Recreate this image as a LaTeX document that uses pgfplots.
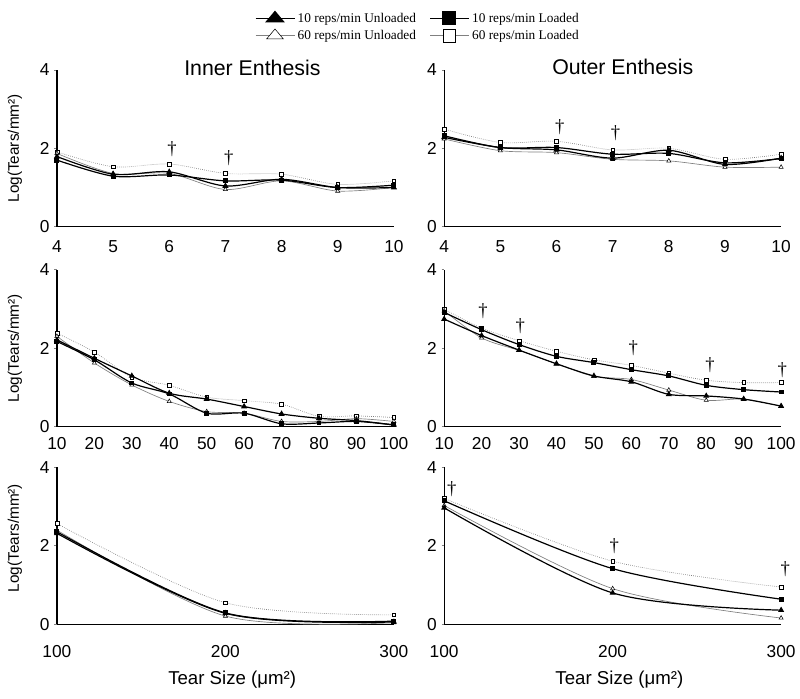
\documentclass[border=0pt]{standalone}
\usepackage{fontspec}
\setmainfont{Liberation Sans}
\newfontfamily\legfont{Liberation Serif}
\usepackage{pgfplots}
\pgfplotsset{compat=1.18}
\pgfplotsset{
 s10u/.style={black, line width=0.9pt, smooth, tension=0.5, mark=triangle*, mark size=1.8pt, mark options={solid, fill=black}},
 s10l/.style={black, line width=0.9pt, smooth, tension=0.5, mark=square*, mark size=1.4pt, mark options={solid, fill=black}},
 s60u/.style={gray, line width=0.5pt, smooth, tension=0.5, mark=triangle*, mark size=1.8pt, mark options={solid, fill=white, draw=black, line width=0.4pt}},
 s60l/.style={gray, line width=0.5pt, densely dotted, smooth, tension=0.5, mark=square*, mark size=1.4pt, mark options={solid, fill=white, draw=black, line width=0.4pt}},
 panel/.style={scale only axis, width=253pt, height=117.75pt, anchor=south west,
   clip mode=individual,
   axis x line=bottom, axis y line=left, axis line style={-, line width=1pt},
   ymin=0, ymax=4, ytick={0,2,4}, tick align=outside, major tick length=2pt,
   xtick style={draw=none}, ytick style={line width=0.6pt},
   tick label style={font=\fontsize{13}{15}\selectfont},
   /pgf/number format/assume math mode=true},
}
\tikzset{
 ttl/.style={font=\fontsize{16}{18}\selectfont},
 dag/.style={font=\legfont\fontsize{14}{16}\selectfont},
}
\newcommand{\ylab}{Log(Tears/mm²)}
\begin{document}
\begin{tikzpicture}
\path (0,0) rectangle (600pt,524.25pt);
% ---------------- Top left
\begin{axis}[panel, at={(42.75pt,354pt)}, xmin=4, xmax=10, xtick={4,5,6,7,8,9,10},
  xticklabel style={yshift=-4.5pt},
  ylabel={\ylab}, ylabel style={at={(axis description cs:-0.125,0.5)}, anchor=center, font=\fontsize{11.5}{13}\selectfont},
  legend columns=2,
  legend style={at={(axis description cs:0.575,1.40)}, anchor=north west, draw=none, fill=none,
    font=\legfont\fontsize{10}{12}\selectfont, /tikz/every even column/.append style={column sep=8pt}, row sep=0.5pt},
  legend image code/.code={\draw[mark repeat=2,mark phase=2] plot coordinates {(0pt,0pt)(14.5pt,0pt)(29pt,0pt)};},
  legend image post style={smooth=false}]
\addlegendimage{s10u, line width=1.1pt, mark size=5pt, mark options={solid, fill=black, xscale=1.45}}\addlegendentry{10 reps/min Unloaded}
\addlegendimage{s10l, line width=1.1pt, mark size=4.7pt}\addlegendentry{10 reps/min Loaded}
\addlegendimage{s60u, solid, mark size=5pt, mark options={solid, fill=white, draw=black, line width=0.4pt, xscale=1.45}}\addlegendentry{60 reps/min Unloaded}
\addlegendimage{s60l, solid, mark size=4.7pt}\addlegendentry{60 reps/min Loaded}
\addplot[s60l, forget plot] coordinates {(4,1.91)(5,1.53)(6,1.60)(7,1.36)(8,1.34)(9,1.08)(10,1.17)};
\addplot[s60u, forget plot] coordinates {(4,1.87)(5,1.36)(6,1.36)(7,0.95)(8,1.17)(9,0.91)(10,1.00)};
\addplot[s10l, forget plot] coordinates {(4,1.70)(5,1.29)(6,1.32)(7,1.17)(8,1.19)(9,1.00)(10,1.06)};
\addplot[s10u, forget plot] coordinates {(4,1.79)(5,1.34)(6,1.40)(7,1.04)(8,1.21)(9,1.00)(10,1.00)};
\node[ttl] at (axis description cs:0.58,1.01) {Inner Enthesis};
\node[dag] at (axis cs:6.05,1.98) {†};
\node[dag] at (axis cs:7.06,1.74) {†};
\end{axis}
% ---------------- Top right
\begin{axis}[panel, at={(333.5pt,354pt)}, xmin=4, xmax=10, xtick={4,5,6,7,8,9,10},
  xticklabel style={yshift=-4.5pt}]
\addplot[s60l] coordinates {(4,2.49)(5,2.15)(6,2.18)(7,1.96)(8,2.00)(9,1.72)(10,1.85)};
\addplot[s60u] coordinates {(4,2.24)(5,1.94)(6,1.89)(7,1.72)(8,1.68)(9,1.52)(10,1.52)};
\addplot[s10l] coordinates {(4,2.32)(5,2.02)(6,2.02)(7,1.85)(8,1.87)(9,1.63)(10,1.74)};
\addplot[s10u] coordinates {(4,2.28)(5,2.02)(6,1.96)(7,1.75)(8,1.95)(9,1.59)(10,1.75)};
\node[ttl] at (axis description cs:0.53,1.02) {Outer Enthesis};
\node[dag] at (axis cs:6.06,2.55) {†};
\node[dag] at (axis cs:7.05,2.38) {†};
\end{axis}
% ---------------- Middle left
\begin{axis}[panel, at={(42.75pt,204pt)}, xmin=10, xmax=100, xtick={10,20,...,100},
  xticklabel style={yshift=-3pt},
  ylabel={\ylab}, ylabel style={at={(axis description cs:-0.125,0.5)}, anchor=center, font=\fontsize{11.5}{13}\selectfont}]
\addplot[s60l] coordinates {(10,2.38)(20,1.90)(30,1.26)(40,1.05)(50,0.75)(60,0.66)(70,0.57)(80,0.26)(90,0.27)(100,0.23)};
\addplot[s60u] coordinates {(10,2.30)(20,1.62)(30,1.06)(40,0.64)(50,0.38)(60,0.34)(70,0.13)(80,0.13)(90,0.20)(100,0.13)};
\addplot[s10l] coordinates {(10,2.17)(20,1.70)(30,1.11)(40,0.83)(50,0.34)(60,0.34)(70,0.07)(80,0.09)(90,0.13)(100,0.04)};
\addplot[s10u] coordinates {(10,2.21)(20,1.74)(30,1.29)(40,0.85)(50,0.70)(60,0.51)(70,0.32)(80,0.21)(90,0.15)(100,0.04)};
\end{axis}
% ---------------- Middle right
\begin{axis}[panel, at={(333.5pt,204pt)}, xmin=10, xmax=100, xtick={10,20,...,100},
  xticklabel style={yshift=-3pt}]
\addplot[s60l] coordinates {(10,2.99)(20,2.51)(30,2.19)(40,1.92)(50,1.70)(60,1.56)(70,1.36)(80,1.18)(90,1.12)(100,1.12)};
\addplot[s60u] coordinates {(10,2.95)(20,2.26)(30,1.94)(40,1.60)(50,1.28)(60,1.20)(70,0.93)(80,0.67)(90,0.70)(100,0.52)};
\addplot[s10l] coordinates {(10,2.91)(20,2.47)(30,2.09)(40,1.79)(50,1.63)(60,1.45)(70,1.29)(80,1.05)(90,0.94)(100,0.88)};
\addplot[s10u] coordinates {(10,2.74)(20,2.32)(30,1.95)(40,1.60)(50,1.29)(60,1.14)(70,0.82)(80,0.78)(90,0.70)(100,0.52)};
\node[dag] at (axis cs:20.4,2.95) {†};
\node[dag] at (axis cs:30.3,2.57) {†};
\node[dag] at (axis cs:60.5,2.00) {†};
\node[dag] at (axis cs:81,1.57) {†};
\node[dag] at (axis cs:100.3,1.43) {†};
\end{axis}
% ---------------- Bottom left
\begin{axis}[panel, at={(42.75pt,55.5pt)}, xmin=100, xmax=300, xtick={100,200,300},
  xticklabel style={yshift=-10pt},
  ylabel={\ylab}, ylabel style={at={(axis description cs:-0.125,0.55)}, anchor=center, font=\fontsize{11.5}{13}\selectfont},
  xlabel={Tear Size (μm²)}, xlabel style={at={(axis description cs:0.52,-0.35)}, anchor=center, font=\fontsize{14}{16}\selectfont}]
\addplot[s60l] coordinates {(100,2.57)(200,0.55)(300,0.24)};
\addplot[s60u] coordinates {(100,2.40)(200,0.21)(300,0.04)};
\addplot[s10l] coordinates {(100,2.36)(200,0.29)(300,0.08)};
\addplot[s10u] coordinates {(100,2.32)(200,0.28)(300,0.06)};
\end{axis}
% ---------------- Bottom right
\begin{axis}[panel, at={(333.5pt,55.5pt)}, xmin=100, xmax=300, xtick={100,200,300},
  xticklabel style={yshift=-10pt},
  xlabel={Tear Size (μm²)}, xlabel style={at={(axis description cs:0.52,-0.35)}, anchor=center, font=\fontsize{14}{16}\selectfont}]
\addplot[s60l] coordinates {(100,3.21)(200,1.61)(300,0.95)};
\addplot[s60u] coordinates {(100,3.03)(200,0.91)(300,0.16)};
\addplot[s10l] coordinates {(100,3.15)(200,1.42)(300,0.64)};
\addplot[s10u] coordinates {(100,2.97)(200,0.80)(300,0.36)};
\node[dag] at (axis cs:104.5,3.45) {†};
\node[dag] at (axis cs:201,2.00) {†};
\node[dag] at (axis cs:302.5,1.42) {†};
\end{axis}
\end{tikzpicture}
\end{document}
